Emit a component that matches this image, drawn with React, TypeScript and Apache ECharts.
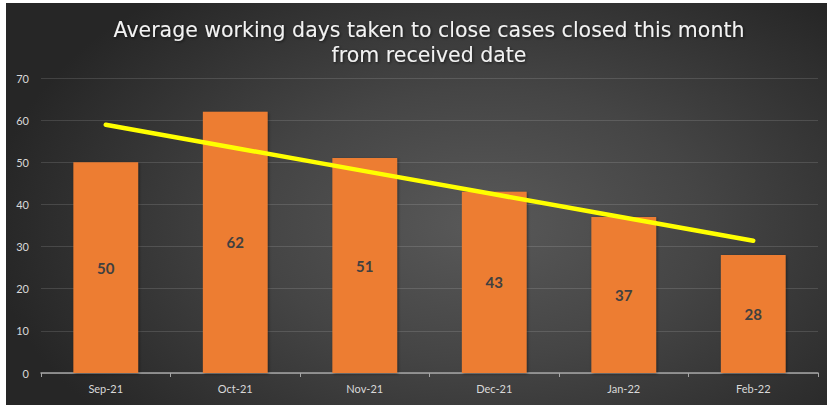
import React, { useEffect, useRef } from "react";
import * as echarts from "echarts";

const categories = ["Sep-21", "Oct-21", "Nov-21", "Dec-21", "Jan-22", "Feb-22"];
const avgDays = [50, 62, 51, 43, 37, 28];
// trendline values
const trendValues = [58.9, 53.4, 47.9, 42.4, 36.9, 31.4];
const yTicks = { min: 0, max: 70, interval: 10 };
const titleLines = [
  "Average working days taken to close cases closed this month",
  "from received date",
];

export default function App() {
  const ref = useRef<HTMLDivElement>(null);
  useEffect(() => {
    if (!ref.current) return;
    const chart = echarts.init(ref.current, undefined, { renderer: "svg" });
    chart.setOption({
      animation: false,
      backgroundColor: "transparent",
      graphic: [
        {
          type: "text",
          x: 423,
          y: 14,
          style: {
            text: titleLines.join("\n"),
            fill: "#f2f2f2",
            font: "20.5px 'DejaVu Sans'",
            lineHeight: 25,
            align: "center",
            verticalAlign: "top",
            textShadowColor: "rgba(0,0,0,0.6)",
            textShadowBlur: 3,
            textShadowOffsetX: 1,
            textShadowOffsetY: 1,
          },
        },
      ],
      grid: { left: 35, right: 9, top: 75, bottom: 32, containLabel: false },
      xAxis: {
        type: "category",
        data: categories,
        axisLine: { lineStyle: { color: "#a6a6a6", width: 1.5 } },
        axisTick: { show: true, length: 4, lineStyle: { color: "#a6a6a6" } },
        axisLabel: { color: "#d9d9d9", fontSize: 11, fontFamily: "Lato", margin: 10 },
      },
      yAxis: {
        type: "value",
        min: yTicks.min,
        max: yTicks.max,
        interval: yTicks.interval,
        axisLine: { show: false },
        axisTick: { show: false },
        axisLabel: { color: "#d9d9d9", fontSize: 11, fontFamily: "Lato", margin: 12 },
        splitLine: { lineStyle: { color: "rgba(255,255,255,0.13)", width: 1 } },
      },
      series: [
        {
          type: "bar",
          data: avgDays,
          barWidth: "50%",
          itemStyle: {
            color: "#ED7D31",
            shadowColor: "rgba(0,0,0,0.45)",
            shadowBlur: 3,
            shadowOffsetX: 1,
            shadowOffsetY: 1,
          },
          label: {
            show: true,
            position: "inside",
            color: "#404040",
            fontSize: 15,
            fontWeight: "bold",
            fontFamily: "Lato",
          },
          z: 2,
        },
        {
          type: "line",
          data: trendValues,
          symbol: "none",
          lineStyle: { color: "#FFFF00", width: 4.5, cap: "round" },
          z: 3,
        },
      ],
    });
    return () => chart.dispose();
  }, []);
  return (
    <div style={{ position: "fixed", left: 0, top: 0, width: 827, height: 405, background: "#fff" }}>
      <div
        ref={ref}
        style={{
          position: "absolute",
          left: 6,
          top: 3,
          width: 821,
          height: 402,
          background: "radial-gradient(ellipse 60% 75% at 58% 55%, #595959 0%, #454545 45%, #262626 100%)",
        }}
      />
    </div>
  );
}
